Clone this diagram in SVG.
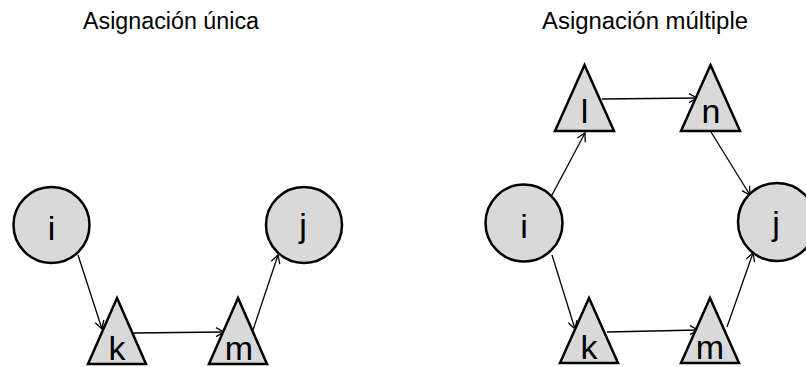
<svg xmlns="http://www.w3.org/2000/svg" width="806" height="367" viewBox="0 0 806 367">
<style>
.n{fill:#d9d9d9;stroke:#000;stroke-width:2.5}
.lb{font-family:"Liberation Sans",Arial,sans-serif;font-size:34px;fill:#000;text-anchor:middle}
.t{font-family:"Liberation Sans",Arial,sans-serif;font-size:23px;fill:#000}
.e{stroke:#000;stroke-width:1.3;fill:none;marker-end:url(#a)}
</style>
<defs>
<marker id="a" markerUnits="userSpaceOnUse" markerWidth="12" markerHeight="12" viewBox="0 0 12 12" refX="10" refY="6" orient="auto">
<path d="M2,1.5 L10,6 L2,10.5" fill="none" stroke="#000" stroke-width="1.3"/>
</marker>
</defs>
<rect width="806" height="367" fill="#fff"/>
<text class="t" x="83" y="29" textLength="176" lengthAdjust="spacingAndGlyphs">Asignación única</text>
<text class="t" x="542" y="29" textLength="206" lengthAdjust="spacingAndGlyphs">Asignación múltiple</text>
<g id="edges">
<line class="e" x1="78" y1="255" x2="102" y2="329"/>
<line class="e" x1="133" y1="333" x2="224" y2="332"/>
<line class="e" x1="253" y1="330" x2="278" y2="255"/>
<line class="e" x1="552" y1="195" x2="585" y2="133"/>
<line class="e" x1="602" y1="99" x2="697" y2="98"/>
<line class="e" x1="711" y1="132" x2="750" y2="195"/>
<line class="e" x1="552" y1="255" x2="575" y2="329"/>
<line class="e" x1="607" y1="332" x2="698" y2="330"/>
<line class="e" x1="727" y1="327" x2="753" y2="253"/>
</g>
<g id="L_i"><circle class="n" cx="51.5" cy="225" r="38"/><text class="lb" x="51.5" y="240">i</text></g>
<g id="L_j"><circle class="n" cx="304" cy="225" r="38"/><text class="lb" x="303" y="237">j</text></g>
<g id="L_k"><polygon class="n" points="117,298 146,364 88,364"/><text class="lb" x="117" y="360">k</text></g>
<g id="L_m"><polygon class="n" points="238,298 267,364 209,364"/><text class="lb" x="239" y="360">m</text></g>
<g id="R_i"><circle class="n" cx="524" cy="223" r="38.5"/><text class="lb" x="524" y="238">i</text></g>
<g id="R_j"><circle class="n" cx="777" cy="222" r="39"/><text class="lb" x="776" y="235">j</text></g>
<g id="R_l"><polygon class="n" points="584.5,65 614,131 555,131"/><text class="lb" x="584.5" y="123">l</text></g>
<g id="R_n"><polygon class="n" points="710.5,65 740,131 681,131"/><text class="lb" x="711" y="123">n</text></g>
<g id="R_k"><polygon class="n" points="589,298 618,363 560,363"/><text class="lb" x="589" y="359">k</text></g>
<g id="R_m"><polygon class="n" points="710,298 739,363 681,363"/><text class="lb" x="710" y="359">m</text></g>
</svg>
